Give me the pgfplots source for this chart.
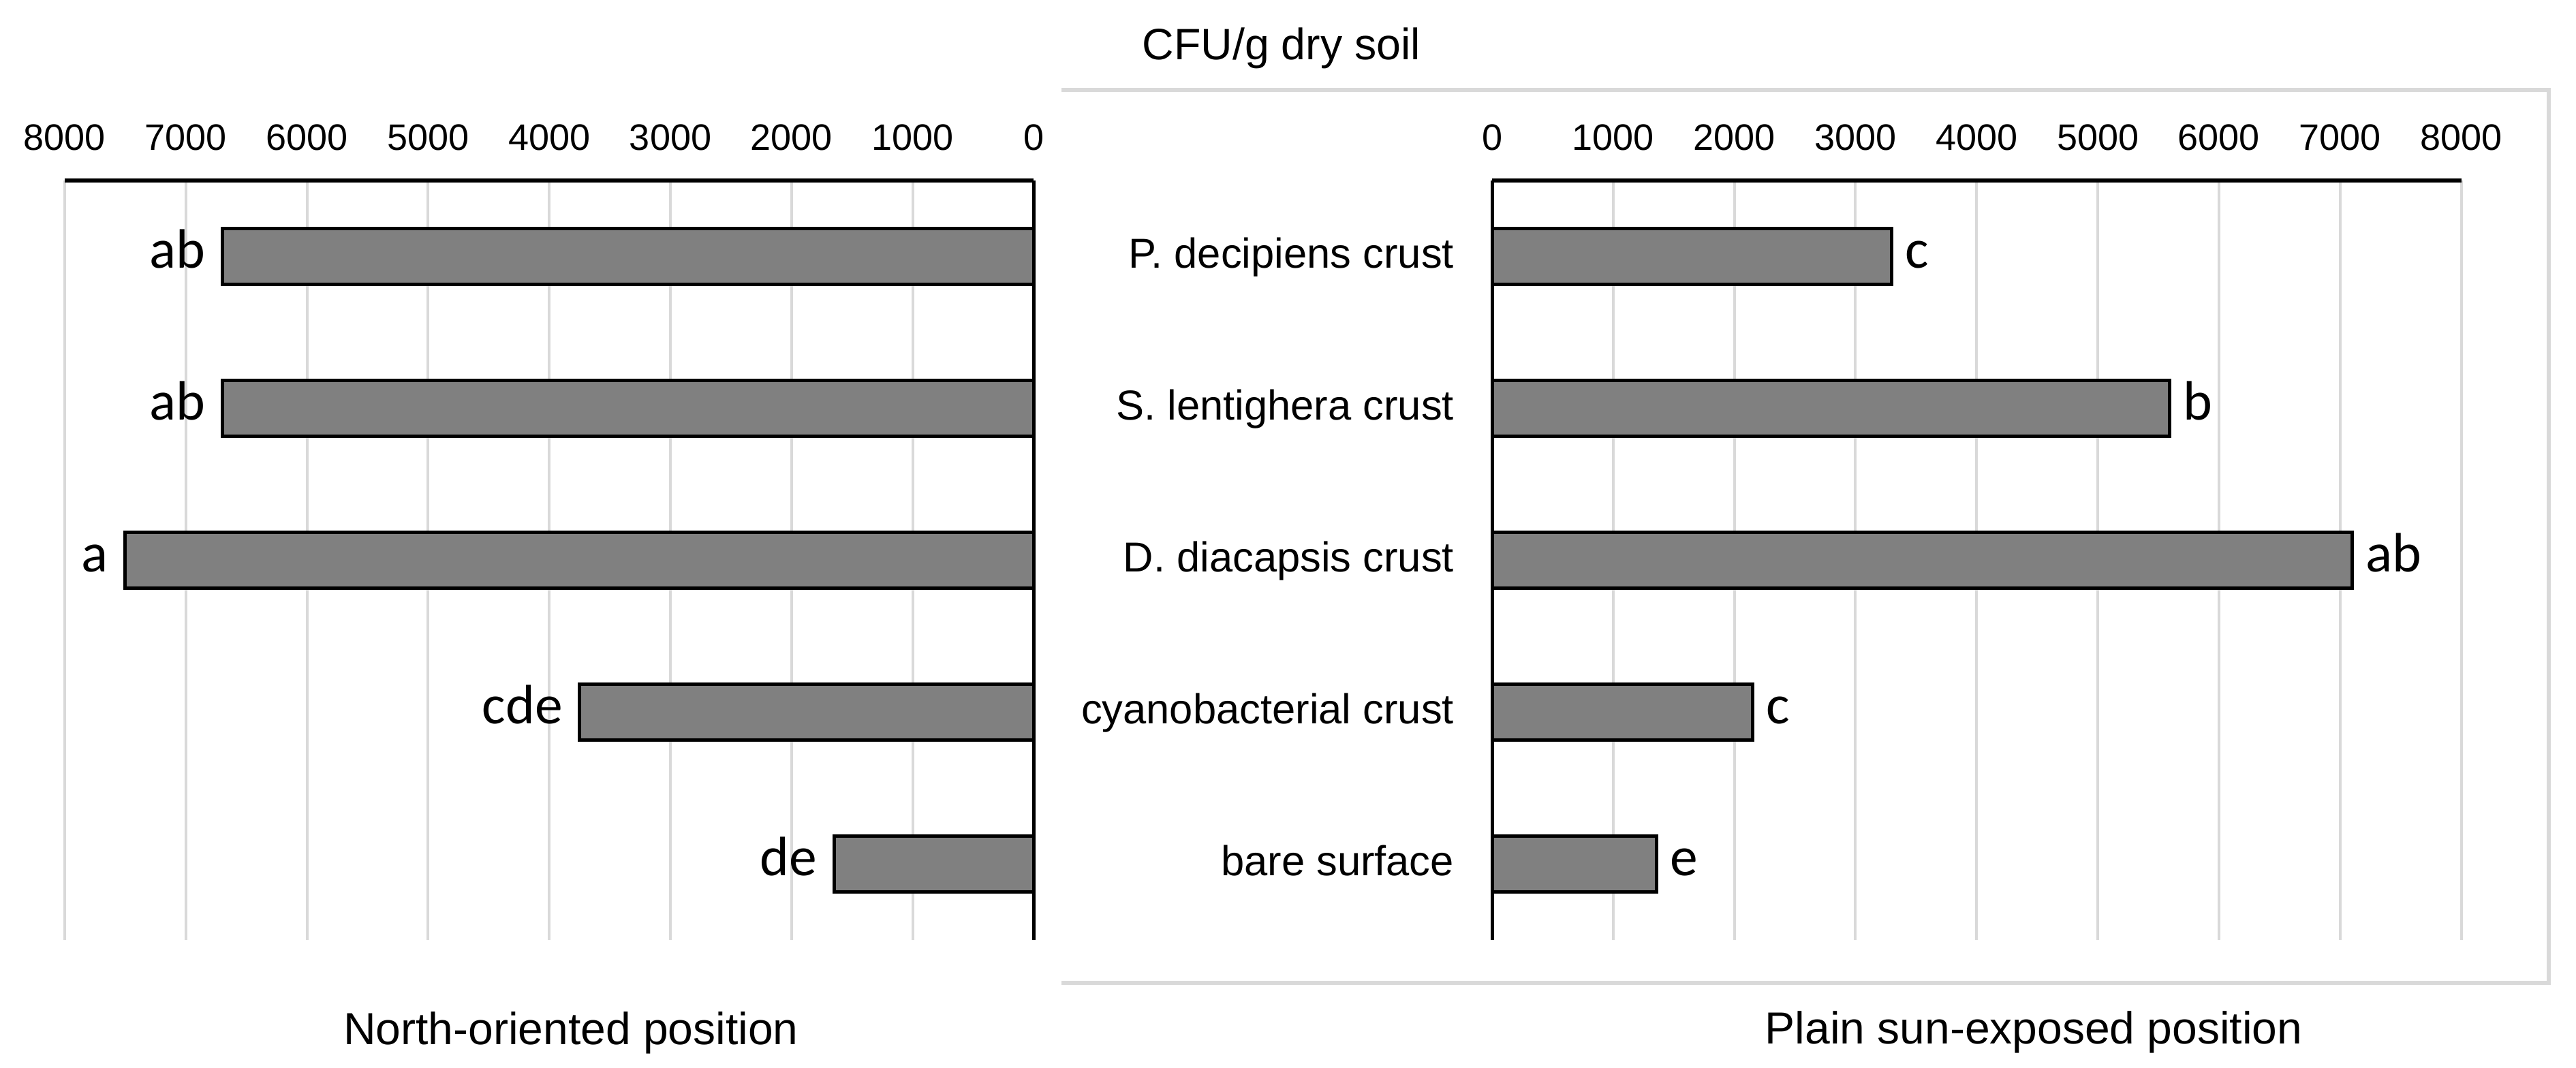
\documentclass[border=0pt]{standalone}
\usepackage{pgfplots}
\pgfplotsset{compat=1.18}
\usepackage{fontspec}
\setmainfont{Liberation Sans}
\newfontfamily\lettfont{Carlito}

\definecolor{barfill}{RGB}{128,128,128}
\definecolor{gridgray}{RGB}{217,217,217}

% letter groups: point meta is the text
\pgfplotstableread{
val  pos lab
6700 5   ab
6700 4   ab
7500 3   a
3750 2   cde
1650 1   de
}\northdata
\pgfplotstableread{
val  pos lab
3300 5   c
5590 4   b
7100 3   ab
2150 2   c
1360 1   e
}\sundata

\pgfplotsset{
  panel/.style={
    scale only axis,
    anchor=north west,
    width=284.5pt, height=223pt,
    xbar, bar width=16.4pt,
    xmin=0, xmax=8000, ymin=0.5, ymax=5.5,
    enlargelimits=false,
    xtick={0,1000,...,8000},
    xticklabel pos=upper,
    major tick length=0pt,
    axis line style={draw=none},
    xmajorgrids,
    major grid style={gridgray, line width=0.8pt},
    /pgf/number format/1000 sep={},
    /pgf/number format/assume math mode=true,
    xticklabel style={font=\fontsize{10.8}{12}\selectfont, anchor=base, inner sep=0pt},
    xticklabel shift=9pt,
    clip=false,
    point meta=explicit symbolic,
    nodes near coords,
  },
}

\begin{document}
\begin{tikzpicture}
\path[use as bounding box] (0,0) rectangle (756.2pt,-313.4pt);

% frame round the right panel (no left side)
\draw[gridgray, line width=1.1pt] (311.6pt,-26.4pt) -- (748.2pt,-26.4pt)
  -- (748.2pt,-288.6pt) -- (311.6pt,-288.6pt);

\begin{axis}[panel,
    at={(19pt,-53pt)},
    x dir=reverse,
    ytick=\empty,
    every node near coord/.append style={anchor=base east, yshift=-3.4pt,
      font=\lettfont\fontsize{16.3}{18}\selectfont, inner sep=4.5pt},
  ]
  \addplot[fill=barfill, draw=black, line width=1pt]
    table[x=val, y=pos, meta=lab] {\northdata};
  \draw[black, line width=1.3pt] (axis cs:8000,5.5) -- (axis cs:0,5.5);
  \draw[black, line width=1pt] (axis cs:0,0.5) -- (axis cs:0,5.5);
\end{axis}

\begin{axis}[panel,
    at={(438pt,-53pt)},
    ytick={1,...,5},
    yticklabels={bare surface, cyanobacterial crust, D. diacapsis crust,
      S. lentighera crust, P. decipiens crust},
    yticklabel style={font=\fontsize{12.3}{14}\selectfont, anchor=base east,
      inner sep=0pt, yshift=-3.4pt},
    yticklabel shift=11pt,
    every node near coord/.append style={anchor=base west, yshift=-3.4pt,
      font=\lettfont\fontsize{16.3}{18}\selectfont, inner sep=3.5pt},
  ]
  \addplot[fill=barfill, draw=black, line width=1pt]
    table[x=val, y=pos, meta=lab] {\sundata};
  \draw[black, line width=1.3pt] (axis cs:0,5.5) -- (axis cs:8000,5.5);
  \draw[black, line width=1pt] (axis cs:0,0.5) -- (axis cs:0,5.5);
\end{axis}

\node[anchor=base, font=\fontsize{12.9}{15}\selectfont] at (376.2pt,-17.4pt) {CFU/g dry soil};
\node[anchor=base, font=\fontsize{13.2}{15}\selectfont] at (167.6pt,-306.6pt) {North-oriented position};
\node[anchor=base, font=\fontsize{13.2}{15}\selectfont] at (597pt,-306.4pt) {Plain sun-exposed position};
\end{tikzpicture}
\end{document}
